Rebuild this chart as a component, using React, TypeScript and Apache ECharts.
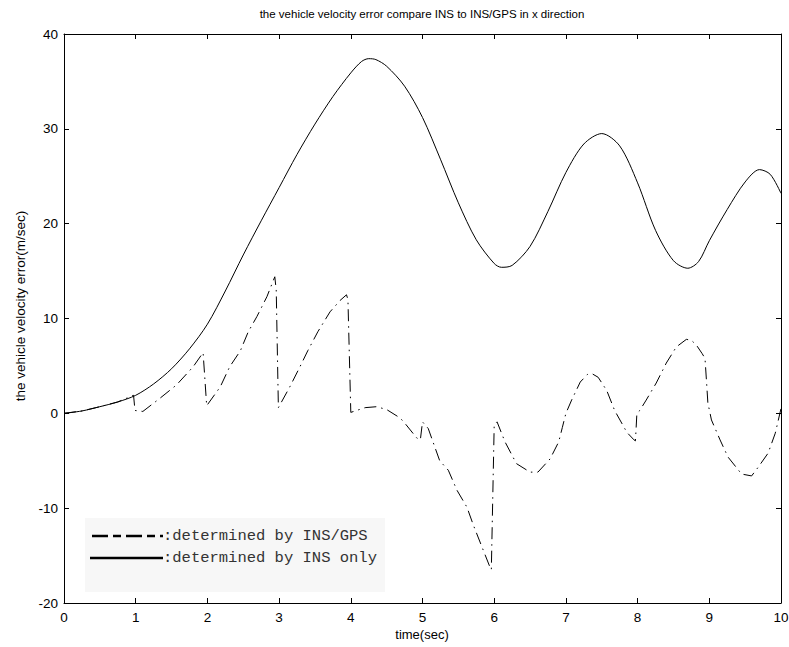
import React, { useEffect, useRef } from "react";
import * as echarts from "echarts";

const TITLE = "the vehicle velocity error compare INS to INS/GPS in x direction";
const X_NAME = "time(sec)";
const Y_NAME = "the vehicle velocity error(m/sec)";
const LEGEND_GPS = ":determined by INS/GPS";
const LEGEND_INS = ":determined by INS only";

const X_MIN = 0, X_MAX = 10, X_STEP = 1;
const Y_MIN = -20, Y_MAX = 40, Y_STEP = 10;

// INS only (solid)
const insT = [0, 0.25, 0.5, 0.75, 1, 1.25, 1.5, 1.75, 2, 2.25, 2.5, 2.75, 3, 3.25, 3.5, 3.75, 4, 4.15, 4.25, 4.35, 4.5, 4.75, 5, 5.25, 5.5, 5.75, 6, 6.1, 6.25, 6.5, 6.75, 7, 7.25, 7.5, 7.75, 8, 8.25, 8.5, 8.7, 8.85, 9, 9.25, 9.5, 9.7, 9.85, 10];
const insV = [0, 0.25, 0.7, 1.2, 1.9, 3.1, 4.7, 6.8, 9.4, 12.9, 16.7, 20.3, 23.8, 27.3, 30.5, 33.4, 35.9, 37.1, 37.4, 37.3, 36.6, 34.5, 31.2, 26.8, 22.2, 18.3, 15.8, 15.4, 15.6, 17.6, 21.3, 25.4, 28.4, 29.5, 28.2, 24.3, 19.3, 16.1, 15.3, 16.0, 18.2, 21.5, 24.4, 25.7, 25.2, 23.2];

// INS/GPS (dash-dot)
const gpsT = [0, 0.25, 0.5, 0.75, 0.97, 0.99, 1.1, 1.34, 1.57, 1.8, 1.94, 1.99, 2.18, 2.31, 2.46, 2.57, 2.69, 2.83, 2.94, 2.96, 2.99, 3.15, 3.29, 3.4, 3.54, 3.71, 3.85, 3.94, 3.96, 4.0, 4.2, 4.36, 4.5, 4.69, 4.76, 4.92, 4.97, 5.0, 5.08, 5.24, 5.36, 5.48, 5.62, 5.71, 5.83, 5.94, 5.96, 6.0, 6.04, 6.15, 6.31, 6.5, 6.61, 6.78, 6.9, 6.95, 7.0, 7.08, 7.2, 7.3, 7.36, 7.45, 7.57, 7.68, 7.85, 7.95, 7.97, 7.99, 8.03, 8.12, 8.26, 8.4, 8.54, 8.68, 8.75, 8.82, 8.9, 8.94, 8.96, 8.98, 9.03, 9.15, 9.26, 9.45, 9.59, 9.68, 9.82, 9.92, 10];
const gpsV = [0, 0.25, 0.7, 1.2, 1.9, 0.3, 0.2, 1.6, 3.0, 4.9, 6.4, 0.8, 2.8, 4.9, 6.6, 8.6, 10.2, 12.3, 14.4, 13.0, 0.6, 2.8, 4.9, 6.6, 8.6, 10.7, 11.9, 12.5, 12.0, 0.1, 0.6, 0.7, 0.4, -0.5, -1.1, -2.6, -2.8, -0.9, -1.6, -5.0, -6.0, -8.1, -9.9, -11.8, -14.1, -16.2, -16.5, -1.2, -0.9, -3.0, -5.3, -6.2, -6.2, -4.8, -3.0, -1.5, 0.0, 1.4, 3.3, 4.1, 4.2, 3.8, 2.4, 0.3, -2.0, -2.8, -2.9, 0.0, 0.3, 1.4, 3.2, 5.3, 7.0, 7.8, 7.7, 7.2, 6.3, 5.8, 3.5, 1.1, -0.7, -2.8, -4.6, -6.4, -6.6, -5.7, -4.2, -2.1, 0.5];

const pairs = (t: number[], v: number[]) => t.map((x, i) => [x, v[i]]);

export default function App() {
  const ref = useRef<HTMLDivElement>(null);
  useEffect(() => {
    if (!ref.current) return;
    const chart = echarts.init(ref.current, null, { renderer: "svg" });
    const sans = "Liberation Sans, Arial, sans-serif";
    const axisFont = { fontFamily: sans, fontSize: 13.5, color: "#000" };
    const baseX = {
      type: "value" as const,
      min: X_MIN,
      max: X_MAX,
      interval: X_STEP,
      splitLine: { show: false },
      axisLine: { show: true, onZero: false, lineStyle: { color: "#000", width: 1 } },
      axisTick: { show: true, inside: true, length: 5, lineStyle: { color: "#000" } },
    };
    const baseY = {
      type: "value" as const,
      min: Y_MIN,
      max: Y_MAX,
      interval: Y_STEP,
      splitLine: { show: false },
      axisLine: { show: true, onZero: false, lineStyle: { color: "#000", width: 1 } },
      axisTick: { show: true, inside: true, length: 5, lineStyle: { color: "#000" } },
    };
    chart.setOption({
      animation: false,
      backgroundColor: "#fff",
      grid: { left: 64, top: 34, right: 8, bottom: 44, show: false, containLabel: false, outerBoundsMode: "none" },
      xAxis: [
        { ...baseX, position: "bottom", axisLabel: { ...axisFont, margin: 7 } },
        { ...baseX, position: "top", axisLabel: { show: false } },
      ],
      yAxis: [
        { ...baseY, position: "left", axisLabel: { ...axisFont, margin: 6 } },
        { ...baseY, position: "right", axisLabel: { show: false } },
      ],
      series: [
        {
          type: "line",
          name: "INS only",
          data: pairs(insT, insV),
          showSymbol: false,
          smooth: 0.3,
          lineStyle: { color: "#000", width: 1 },
          z: 3,
        },
        {
          type: "line",
          name: "INS/GPS",
          data: pairs(gpsT, gpsV),
          showSymbol: false,
          lineStyle: { color: "#000", width: 1, type: [12, 5, 1.5, 5] },
          z: 3,
        },
      ],
      graphic: [
        { type: "text", x: 422, y: 14, style: { text: TITLE, font: `11.5px ${sans}`, fill: "#000", textAlign: "center", textVerticalAlign: "middle" }, z: 5 },
        { type: "text", x: 422, y: 634, style: { text: X_NAME, font: `13px ${sans}`, fill: "#000", textAlign: "center", textVerticalAlign: "middle" }, z: 5 },
        { type: "text", x: 20, y: 306, rotation: Math.PI / 2, style: { text: Y_NAME, font: `13.5px ${sans}`, fill: "#000", textAlign: "center", textVerticalAlign: "middle" }, z: 5 },
        { type: "rect", shape: { x: 85, y: 518, width: 300, height: 74 }, style: { fill: "#f7f7f7" }, z: 1 },
        { type: "line", shape: { x1: 92, y1: 536, x2: 163, y2: 536 }, style: { stroke: "#000", lineWidth: 2.5, lineDash: [16, 5, 8, 5] }, z: 5 },
        { type: "line", shape: { x1: 90, y1: 558, x2: 163, y2: 558 }, style: { stroke: "#000", lineWidth: 2.5 }, z: 5 },
        { type: "text", x: 163, y: 536, style: { text: LEGEND_GPS, font: "15.5px 'Liberation Mono', monospace", fill: "#333", textVerticalAlign: "middle" }, z: 5 },
        { type: "text", x: 163, y: 558, style: { text: LEGEND_INS, font: "15.5px 'Liberation Mono', monospace", fill: "#333", textVerticalAlign: "middle" }, z: 5 },
      ],
    });
    return () => chart.dispose();
  }, []);
  return <div ref={ref} style={{ width: 789, height: 647, position: "absolute", left: 0, top: 0 }} />;
}
